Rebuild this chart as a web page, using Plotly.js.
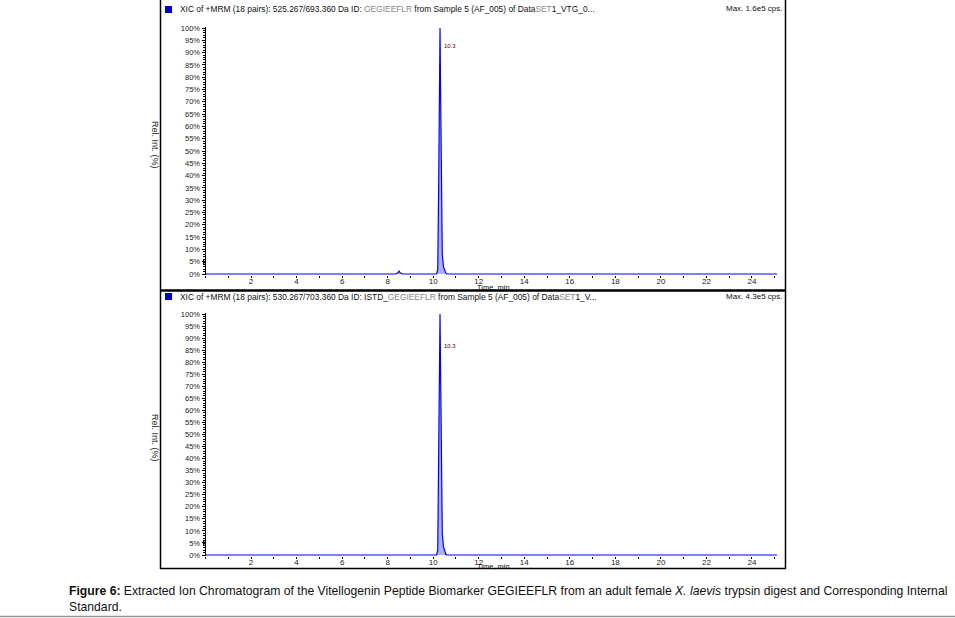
<!DOCTYPE html>
<html><head><meta charset="utf-8">
<script src="https://cdn.plot.ly/plotly-3.0.1.min.js"></script>
<style>html,body{margin:0;padding:0;background:#fff;}#chart{width:955px;height:618px;}</style>
</head><body><div id="chart"></div>
<script>
// ---- data ----
const timeTop = [0, 8.35, 8.45, 8.5, 8.55, 8.65, 10.15, 10.2, 10.24, 10.27, 10.3, 10.33, 10.36, 10.4, 10.45, 10.5, 10.55, 10.6, 25.1];
const relIntTop = [0, 0, 0.5, 1.2, 0.5, 0, 0, 2, 35, 85, 100, 70, 20, 8, 3, 1.2, 0.4, 0, 0];
const timeBottom = [0, 10.15, 10.2, 10.24, 10.27, 10.3, 10.33, 10.36, 10.4, 10.45, 10.5, 10.55, 10.6, 25.1];
const relIntBottom = [0, 0, 2, 40, 88, 100, 72, 22, 9, 3.5, 1.4, 0.4, 0, 0];
const xTicks = [2, 4, 6, 8, 10, 12, 14, 16, 18, 20, 22, 24];
const yTicks = [0,5,10,15,20,25,30,35,40,45,50,55,60,65,70,75,80,85,90,95,100];
const yTickText = yTicks.map(v => v + '%');
const headerTop = 'XIC of +MRM (18 pairs): 525.267/693.360 Da ID: <span style="color:#888">GEGIEEFLR</span> from Sample 5 (AF_005) of Data<span style="color:#888">SET</span>1_VTG_0...';
const headerBottom = 'XIC of +MRM (18 pairs): 530.267/703.360 Da ID: ISTD_<span style="color:#888">GEGIEEFLR</span> from Sample 5 (AF_005) of Data<span style="color:#888">SET</span>1_V...';
const maxTop = 'Max. 1.6e5 cps.';
const maxBottom = 'Max. 4.3e5 cps.';
const peakLabel = '10.3';
const caption1 = '<b>Figure 6:</b> Extracted Ion Chromatogram of the Vitellogenin Peptide Biomarker GEGIEEFLR from an adult female <i>X. laevis</i> trypsin digest and Corresponding Internal';
const caption2 = 'Standard.';

// ---- helpers (pixel -> paper) ----
const W = 955, H = 618;
const px = x => x / W;
const py = y => 1 - y / H;

const font = 'Liberation Sans, Arial, sans-serif';
const lineCol = '#0000ff';
const fillCol = 'rgba(110,110,255,0.55)';

const traces = [
  {x: timeTop, y: relIntTop, xaxis: 'x', yaxis: 'y', type: 'scatter', mode: 'lines',
   line: {color: lineCol, width: 1.2}, fill: 'tozeroy', fillcolor: fillCol, hoverinfo: 'none'},
  {x: timeBottom, y: relIntBottom, xaxis: 'x2', yaxis: 'y2', type: 'scatter', mode: 'lines',
   line: {color: lineCol, width: 1.2}, fill: 'tozeroy', fillcolor: fillCol, hoverinfo: 'none'}
];

function xax(anchor) {
  return {domain: [px(205.5), px(777)], range: [0, 25.1], anchor: anchor,
    tickvals: xTicks, ticktext: xTicks.map(String), ticks: 'outside', ticklen: 2, tickwidth: 1,
    tickcolor: '#000', showline: false, showgrid: false, zeroline: false, ticklabelstandoff: -4,
    tickfont: {family: font, size: 8, color: '#222'},
    minor: {dtick: 1, ticks: 'outside', ticklen: 2, tickcolor: '#000'}};
}
function yax(anchor, y0, y100) {
  const ppu = (y0 - y100) / 100;
  return {domain: [py(y0 + 0.6 * ppu), py(y100 - 0.6 * ppu)], range: [-0.6, 100.6], anchor: anchor,
    tickvals: yTicks, ticktext: yTickText, ticks: 'outside', ticklen: 3, tickwidth: 1,
    tickcolor: '#000', showline: true, linecolor: '#000', linewidth: 1, showgrid: false, zeroline: false,
    tickfont: {family: font, size: 7.5, color: '#222'},
    minor: {dtick: 1, ticks: 'outside', ticklen: 2, tickcolor: '#000'}};
}

const ann = (x, y, text, opts) => Object.assign({xref: 'paper', yref: 'paper', x: px(x), y: py(y), text: text,
  showarrow: false, font: {family: font, size: 8, color: '#111'}, xanchor: 'left', yanchor: 'middle'}, opts || {});

const capFont = {family: 'Liberation Sans, Arial, sans-serif', size: 12.2, color: '#111'};
const tFont = {family: font, size: 7.5, color: '#111'};
const annotations = [
  ann(178, 9, headerTop, {font: {family: font, size: 8.4, color: '#111'}}),
  ann(784, 9, maxTop, {xanchor: 'right'}),
  ann(178, 296.5, headerBottom, {font: {family: font, size: 8.4, color: '#111'}}),
  ann(784, 296.5, maxBottom, {xanchor: 'right'}),
  ann(155, 145, 'Rel. Int. (%)', {textangle: 90, xanchor: 'center', yanchor: 'middle', font: {family: font, size: 9, color: '#222'}}),
  ann(155, 438, 'Rel. Int. (%)', {textangle: 90, xanchor: 'center', yanchor: 'middle', font: {family: font, size: 9, color: '#222'}}),
  ann(442, 46, peakLabel, {font: {family: font, size: 6, color: '#400'}}),
  ann(442, 346, peakLabel, {font: {family: font, size: 6, color: '#400'}}),
  ann(494, 287.3, 'Time, min', {xanchor: 'center', font: tFont}),
  ann(494, 566, 'Time, min', {xanchor: 'center', font: tFont}),
  ann(67, 591, caption1, {font: capFont}),
  ann(67, 607, caption2, {font: capFont})
];

const L = (x0, y0, x1, y1, w, c) => ({type: 'line', xref: 'paper', yref: 'paper',
  x0: px(x0), y0: py(y0), x1: px(x1), y1: py(y1), line: {color: c || '#000', width: w || 1}});
const tri = (yc) => ({type: 'path', xref: 'paper', yref: 'paper',
  path: `M ${px(203)} ${py(yc - 2.5)} L ${px(206)} ${py(yc)} L ${px(203)} ${py(yc + 2.5)} Z`,
  fillcolor: '#000', line: {width: 0}});
const shapes = [
  L(160.5, 0, 160.5, 569, 1.5),
  L(785.5, 0, 785.5, 569, 1.5),
  L(160, 290.5, 786, 290.5, 2.5),
  L(160, 568.5, 786, 568.5, 1.5),
  L(0, 616.5, 955, 616.5, 1.5, '#999'),
  {type: 'rect', xref: 'paper', yref: 'paper', x0: px(165), y0: py(13), x1: px(172), y1: py(6),
   fillcolor: '#0000cc', line: {width: 0}},
  {type: 'rect', xref: 'paper', yref: 'paper', x0: px(165), y0: py(300), x1: px(172), y1: py(293),
   fillcolor: '#0000cc', line: {width: 0}},
  tri(262), tri(543)
];

const layout = {
  width: W, height: H, margin: {l: 0, r: 0, t: 0, b: 0},
  paper_bgcolor: '#fff', plot_bgcolor: 'rgba(0,0,0,0)', showlegend: false,
  xaxis: xax('y'), yaxis: yax('x', 274, 28),
  xaxis2: xax('y2'), yaxis2: yax('x2', 555, 314),
  annotations: annotations, shapes: shapes
};

Plotly.newPlot('chart', traces, layout, {displayModeBar: false, staticPlot: true});
</script></body></html>
